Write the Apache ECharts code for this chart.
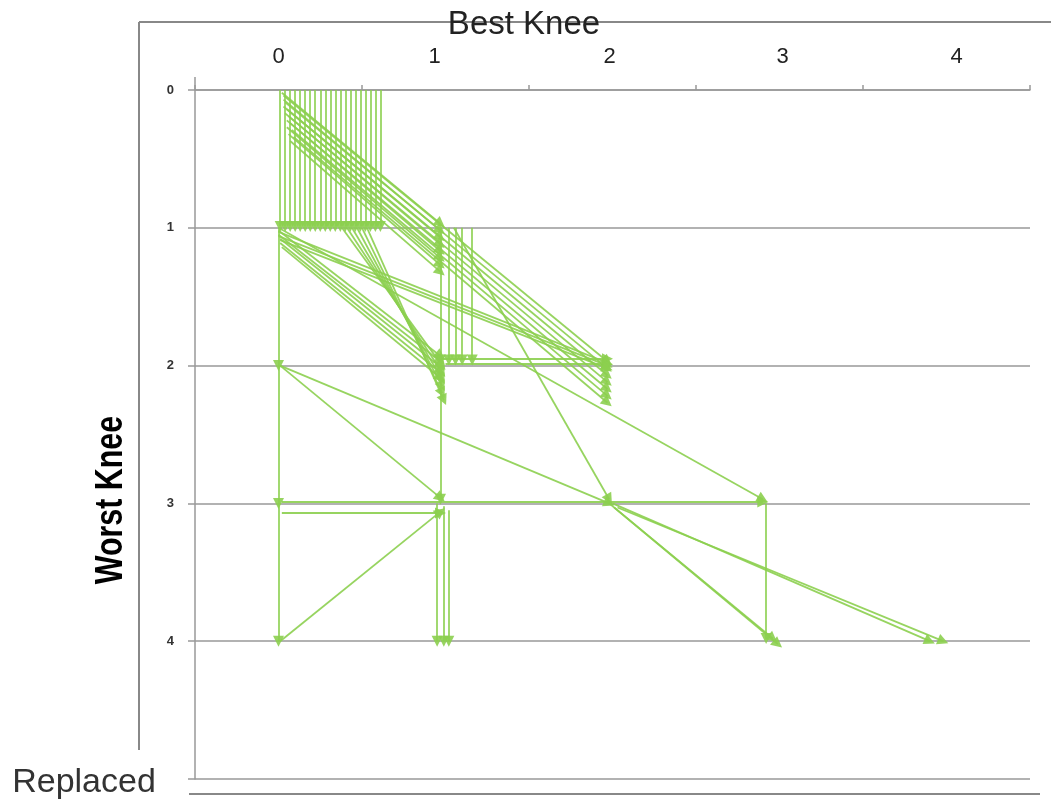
<!DOCTYPE html>
<html>
<head>
<meta charset="utf-8">
<script src="https://cdn.jsdelivr.net/npm/echarts@6/dist/echarts.min.js"></script>
<style>
html,body{margin:0;padding:0;background:#fff;}
#chart{width:1051px;height:800px;}
</style>
</head>
<body>
<div id="chart"></div>
<script>
// Tick labels
const xTickLabels = ['0', '1', '2', '3', '4'];
const yTickLabels = ['0', '1', '2', '3', '4'];
const xTitle = 'Best Knee';
const yTitle = 'Worst Knee';
const bottomNote = 'Replaced';

// Each transition: [fromBest, fromWorst, toBest, toWorst]
const from00to01 = [
  [0.01, 0, 0.01, 0.99], [0.04, 0, 0.04, 0.99], [0.07, 0, 0.07, 0.99], [0.10, 0, 0.10, 0.99],
  [0.13, 0, 0.13, 0.99], [0.16, 0, 0.16, 0.99], [0.19, 0, 0.19, 0.99], [0.22, 0, 0.22, 0.99],
  [0.25, 0, 0.25, 0.99], [0.28, 0, 0.28, 0.99], [0.31, 0, 0.31, 0.99], [0.34, 0, 0.34, 0.99],
  [0.37, 0, 0.37, 0.99], [0.40, 0, 0.40, 0.99], [0.43, 0, 0.43, 0.99], [0.46, 0, 0.46, 0.99],
  [0.49, 0, 0.49, 0.99], [0.52, 0, 0.52, 0.99], [0.55, 0, 0.55, 0.99], [0.58, 0, 0.58, 0.99],
  [0.61, 0, 0.61, 0.99]
];
const from00to11 = [
  [0.02, 0.02, 0.97, 0.97], [0.03, 0.07, 0.97, 1.02], [0.03, 0.12, 0.97, 1.07], [0.04, 0.17, 0.97, 1.12],
  [0.05, 0.22, 0.97, 1.17], [0.05, 0.27, 0.97, 1.22], [0.06, 0.32, 0.97, 1.27], [0.07, 0.37, 0.97, 1.32]
];
const from00to22 = [
  [0.03, 0.04, 1.97, 1.97], [0.04, 0.09, 1.97, 2.02], [0.05, 0.14, 1.97, 2.07], [0.06, 0.19, 1.97, 2.12],
  [0.07, 0.24, 1.97, 2.17], [0.08, 0.29, 1.97, 2.22], [0.09, 0.34, 1.97, 2.27]
];
const from11to12 = [
  [0.97, 1.0, 0.97, 1.96], [1.02, 1.0, 1.02, 1.96], [1.06, 1.0, 1.06, 1.96],
  [1.10, 1.0, 1.10, 1.96], [1.16, 1.0, 1.16, 1.96]
];
const from12to22 = [
  [0.98, 1.95, 1.97, 1.95], [1.0, 1.99, 1.97, 1.99]
];
const from01to12 = [
  [0.0, 1.02, 0.97, 1.93], [0.0, 1.05, 0.97, 1.97], [0.01, 1.08, 0.97, 2.01],
  [0.01, 1.11, 0.97, 2.05], [0.02, 1.14, 0.97, 2.09],
  [0.38, 1.0, 0.98, 2.0], [0.41, 1.0, 0.98, 2.05], [0.44, 1.0, 0.98, 2.1],
  [0.47, 1.0, 0.98, 2.15], [0.50, 1.0, 0.98, 2.2], [0.53, 1.0, 0.99, 2.25]
];
const from01to22 = [
  [0.0, 1.03, 1.97, 1.98], [0.0, 1.06, 1.97, 2.0], [0.01, 1.09, 1.97, 2.02]
];
const fromMidToRow3 = [
  [0.0, 1.0, 2.9, 2.97], [1.05, 1.0, 1.98, 2.97], [0.97, 2.05, 0.97, 2.97],
  [0.01, 2.0, 0.97, 2.96], [0.01, 2.0, 1.98, 3.0], [0.02, 2.99, 2.9, 2.99]
];
const fromBest0Down = [
  [0.0, 1.0, 0.0, 2.0], [0.0, 2.0, 0.0, 3.0], [0.0, 3.0, 0.0, 4.0]
];
const toBest1Row34 = [
  [0.02, 3.07, 0.97, 3.07], [0.01, 4.0, 0.97, 3.06],
  [0.95, 3.0, 0.95, 4.0], [0.99, 3.02, 0.99, 4.0], [1.02, 3.05, 1.02, 4.0]
];
const toRow4Right = [
  [1.98, 3.0, 2.96, 3.98], [2.01, 3.03, 2.99, 4.02], [2.92, 3.0, 2.92, 3.98],
  [2.0, 3.0, 3.9, 4.0], [2.03, 3.03, 3.98, 4.0]
];

const groups = [from00to01, from00to11, from00to22, from11to12, from12to22, from01to12,
  from01to22, fromMidToRow3, fromBest0Down, toBest1Row34, toRow4Right];

const green = '#8ccf4f';
const series = groups.map(function (g) {
  return {
    type: 'lines',
    coordinateSystem: 'cartesian2d',
    xAxisIndex: 1,
    yAxisIndex: 0,
    symbol: ['none', 'triangle'],
    symbolSize: [8, 11],
    lineStyle: { color: green, width: 1.8, opacity: 0.9 },
    itemStyle: { color: green },
    z: 5,
    silent: true,
    data: g.map(function (t) { return { coords: [[t[0], t[1]], [t[2], t[3]]] }; })
  };
});

// small per-label horizontal offsets, as in the original picture
const xLabelFont = { fontSize: 22, color: '#222', fontFamily: 'Liberation Sans' };
const xRich = {
  l0: Object.assign({ padding: [0, 0, 0, 0] }, xLabelFont),
  l1: Object.assign({ padding: [0, 22, 0, 0] }, xLabelFont),
  l2: Object.assign({ padding: [0, 6, 0, 0] }, xLabelFont),
  l3: Object.assign({ padding: [0, 0, 0, 6] }, xLabelFont),
  l4: Object.assign({ padding: [0, 0, 0, 20] }, xLabelFont)
};

const chart = echarts.init(document.getElementById('chart'), null, { renderer: 'canvas' });
const gray = '#999999';
chart.setOption({
  animation: false,
  backgroundColor: '#ffffff',
  grid: { left: 195, right: 21, top: 90, bottom: 21, containLabel: false },
  xAxis: [
    {
      type: 'category',
      position: 'top',
      data: xTickLabels,
      boundaryGap: true,
      axisLine: { show: true, onZero: false, lineStyle: { color: gray, width: 1.5 } },
      axisTick: { show: true, length: 5, lineStyle: { color: gray, width: 1.5 } },
      axisLabel: {
        margin: 22, fontSize: 22, color: '#222', fontFamily: 'Liberation Sans',
        formatter: function (v, i) { return '{l' + i + '|' + v + '}'; },
        rich: xRich
      },
      splitLine: { show: false }
    },
    {
      type: 'value',
      position: 'top',
      min: -0.5,
      max: 4.5,
      show: false,
      axisLine: { onZero: false }
    }
  ],
  yAxis: [
    {
      type: 'value',
      inverse: true,
      min: 0,
      max: 5,
      interval: 1,
      axisLine: { show: true, onZero: false, lineStyle: { color: gray, width: 1.5 } },
      axisTick: { show: true, length: 7, lineStyle: { color: gray, width: 1.5 } },
      axisLabel: {
        margin: 21, fontSize: 13, fontWeight: 'bold', color: '#333', fontFamily: 'Liberation Sans',
        formatter: function (v) { return v < yTickLabels.length ? yTickLabels[v] : ''; }
      },
      splitLine: { show: true, lineStyle: { color: gray, width: 1.5 } }
    }
  ],
  graphic: [
    { type: 'line', shape: { x1: 139, y1: 22, x2: 139, y2: 750 }, style: { stroke: '#888', lineWidth: 2 } },
    { type: 'line', shape: { x1: 139, y1: 22, x2: 1051, y2: 22 }, style: { stroke: '#888', lineWidth: 2 } },
    { type: 'line', shape: { x1: 189, y1: 794, x2: 1040, y2: 794 }, style: { stroke: '#888', lineWidth: 2 } },
    { type: 'line', shape: { x1: 195, y1: 77, x2: 195, y2: 90 }, style: { stroke: gray, lineWidth: 1.5 } },
    {
      type: 'text', x: 524, y: 25, z: 10,
      style: { text: xTitle, font: '33px "Liberation Sans"', fill: '#222', textAlign: 'center', textVerticalAlign: 'middle' }
    },
    {
      type: 'text', x: 112, y: 500, rotation: Math.PI / 2, scaleX: 0.8, z: 10,
      style: { text: yTitle, font: 'bold 38px "Liberation Sans"', fill: '#000', textAlign: 'center', textVerticalAlign: 'middle' }
    },
    {
      type: 'text', x: 84, y: 783, z: 10,
      style: { text: bottomNote, font: '34px "Liberation Sans"', fill: '#333', textAlign: 'center', textVerticalAlign: 'middle' }
    }
  ],
  series: series
});
</script>
</body>
</html>
